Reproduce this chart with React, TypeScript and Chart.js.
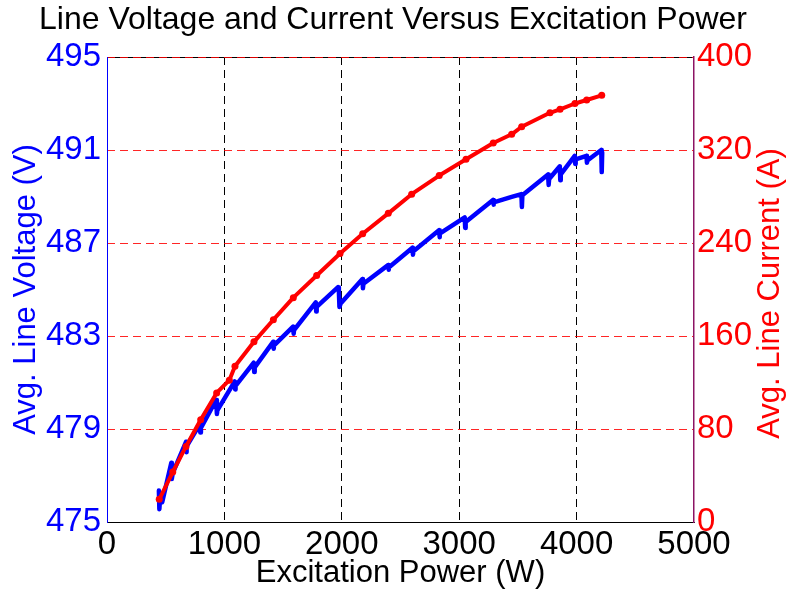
import React, { useEffect, useRef } from "react";
import { Chart, registerables } from "chart.js";

Chart.register(...registerables);

// Current (red, right axis)
const currentPower = [445, 560, 673, 798, 934, 1042, 1090, 1252, 1417, 1587, 1786, 1985, 2178, 2396, 2595, 2830, 3058, 3290, 3447, 3532, 3773, 3859, 3986, 4086, 4214];
const currentAmps = [19.5, 43, 65, 88, 111, 122, 134, 155, 174, 193, 212, 231, 248, 265.5, 282, 298, 312, 326, 333.5, 340, 352, 355, 360, 363, 367];

// Voltage (blue, left axis) – includes the measured scatter at each operating point
const voltagePower = [
  442, 446, 452, 470,
  548, 552, 560,
  673, 676, 680,
  790, 795, 800,
  930, 936, 940,
  1088, 1092, 1095,
  1250, 1254, 1258,
  1415, 1420, 1423,
  1585, 1590, 1593,
  1778, 1782, 1786,
  1968, 1975, 1980, 1990,
  2176, 2180, 2184,
  2394, 2398, 2402,
  2602, 2606, 2610,
  2828, 2832, 2836,
  3047, 3051, 3055,
  3288, 3292, 3296,
  3447,
  3530, 3534, 3538,
  3757, 3762, 3766,
  3857, 3861, 3865,
  3984, 3988, 3992,
  4084, 4088, 4092,
  4210, 4214, 4218,
];
const voltageVolts = [
  476.35, 475.55, 476.0, 475.85,
  477.55, 476.85, 477.1,
  478.45, 478.0, 478.25,
  479.2, 478.85, 479.05,
  480.25, 479.65, 479.8,
  481.05, 480.7, 480.85,
  481.85, 481.45, 481.65,
  482.75, 482.45, 482.6,
  483.4, 483.1, 483.25,
  484.45, 484.05, 484.25,
  485.1, 484.95, 484.25, 484.4,
  485.45, 485.05, 485.25,
  486.05, 485.85, 485.95,
  486.8, 486.5, 486.65,
  487.55, 487.25, 487.4,
  488.1, 487.65, 487.9,
  488.85, 488.65, 488.75,
  488.98,
  489.1, 488.55, 489.05,
  489.95, 489.5, 489.75,
  490.3, 489.7, 489.95,
  490.75, 490.4, 490.6,
  490.75, 490.45, 490.55,
  491.0, 490.05, 490.9,
];

const xTicks = [0, 1000, 2000, 3000, 4000, 5000];
const voltTicks = [475, 479, 483, 487, 491, 495];
const ampTicks = [0, 80, 160, 240, 320, 400];

const titleText = "Line Voltage and Current Versus Excitation Power";
const xTitle = "Excitation Power (W)";
const leftTitle = "Avg. Line Voltage (V)";
const rightTitle = "Avg. Line Current (A)";

const FONT = "'Liberation Sans', Arial, Helvetica, sans-serif";

export default function App() {
  const ref = useRef<HTMLCanvasElement>(null);

  useEffect(() => {
    if (!ref.current) return;
    const boxPlugin = {
      id: "boxPlugin",
      beforeDraw(chart: any) {
        const { ctx, chartArea } = chart;
        ctx.save();
        ctx.fillStyle = "#ffffff";
        ctx.fillRect(0, 0, chart.width, chart.height);
        ctx.strokeStyle = "#000000";
        ctx.lineWidth = 1;
        ctx.beginPath();
        ctx.moveTo(chartArea.left, chartArea.top + 0.5);
        ctx.lineTo(chartArea.right, chartArea.top + 0.5);
        ctx.stroke();
        ctx.restore();
      },
      afterDraw(chart: any) {
        const { ctx, chartArea } = chart;
        ctx.save();
        ctx.translate(770, (chartArea.top + chartArea.bottom) / 2 + 4);
        ctx.rotate(-Math.PI / 2);
        ctx.fillStyle = "#ff0000";
        ctx.font = `31px ${FONT}`;
        ctx.textAlign = "center";
        ctx.textBaseline = "middle";
        ctx.fillText(rightTitle, 0, 0);
        ctx.restore();
      },
    };

    const plainTick = (v: any) => String(v);

    const chart = new Chart(ref.current, {
      type: "line",
      data: {
        datasets: [
          {
            label: rightTitle,
            data: currentPower.map((x, i) => ({ x, y: currentAmps[i] })),
            yAxisID: "yA",
            borderColor: "#ff0000",
            backgroundColor: "#ff0000",
            borderWidth: 4,
            pointRadius: 3.5,
            pointBorderWidth: 0,
            pointBackgroundColor: "#ff0000",
            tension: 0,
            borderJoinStyle: "round",
            borderCapStyle: "round",
            order: 0,
          },
          {
            label: leftTitle,
            data: voltagePower.map((x, i) => ({ x, y: voltageVolts[i] })),
            yAxisID: "yV",
            borderColor: "#0000ff",
            backgroundColor: "#0000ff",
            borderWidth: 4.5,
            pointRadius: 0,
            tension: 0,
            borderJoinStyle: "round",
            borderCapStyle: "round",
            order: 1,
          },
        ],
      },
      options: {
        responsive: false,
        animation: false,
        layout: { padding: 0 },
        plugins: {
          legend: { display: false },
          tooltip: { enabled: false },
          title: {
            display: true,
            text: titleText,
            color: "#000000",
            font: { family: FONT, size: 32, weight: "normal" },
            padding: { top: 1, bottom: 17.6 },
          },
        },
        scales: {
          x: {
            type: "linear",
            min: 0,
            max: 5000,
            afterBuildTicks: (s: any) => {
              s.ticks = xTicks.map((v) => ({ value: v }));
            },
            afterFit: (s: any) => {
              s.height = 70;
            },
            ticks: {
              color: "#000000",
              font: { family: FONT, size: 33 },
              padding: 3,
              maxRotation: 0,
              autoSkip: false,
              callback: plainTick,
            },
            grid: {
              drawTicks: false,
              color: (c: any) =>
                c.tick && (c.tick.value === 0 || c.tick.value === 5000) ? "rgba(0,0,0,0)" : "#000000",
              lineWidth: 1,
            },
            border: { display: true, color: "#000000", width: 1, dash: [8, 5] },
            title: {
              display: true,
              text: xTitle,
              color: "#000000",
              font: { family: FONT, size: 31 },
              padding: { top: 0, bottom: 0 },
            },
          },
          yV: {
            type: "linear",
            position: "left",
            min: 475,
            max: 495,
            afterBuildTicks: (s: any) => {
              s.ticks = voltTicks.map((v) => ({ value: v }));
            },
            afterFit: (s: any) => {
              s.width = 107;
            },
            ticks: {
              color: "#0000ff",
              font: { family: FONT, size: 33 },
              padding: 6,
              callback: plainTick,
            },
            grid: { display: false, drawTicks: false },
            border: { display: true, color: "#0000ff", width: 1 },
            title: {
              display: true,
              text: leftTitle,
              color: "#0000ff",
              font: { family: FONT, size: 31 },
              padding: { top: 8, bottom: 0 },
            },
          },
          yA: {
            type: "linear",
            position: "right",
            min: 0,
            max: 400,
            afterBuildTicks: (s: any) => {
              s.ticks = ampTicks.map((v) => ({ value: v }));
            },
            afterFit: (s: any) => {
              s.width = 92;
            },
            ticks: {
              color: "#ff0000",
              font: { family: FONT, size: 33 },
              padding: 3,
              callback: plainTick,
            },
            grid: {
              drawTicks: false,
              color: "rgba(255,0,0,0.85)",
              lineWidth: 1,
            },
            border: { display: true, color: "rgb(140,20,100)", width: 1.5, dash: [8, 5] },
            title: { display: false },
          },
        },
      },
      plugins: [boxPlugin],
    } as any);

    return () => chart.destroy();
  }, []);

  return (
    <div style={{ position: "absolute", left: 0, top: 0, width: 786, height: 592, background: "#fff" }}>
      <canvas ref={ref} width={786} height={592} />
    </div>
  );
}
